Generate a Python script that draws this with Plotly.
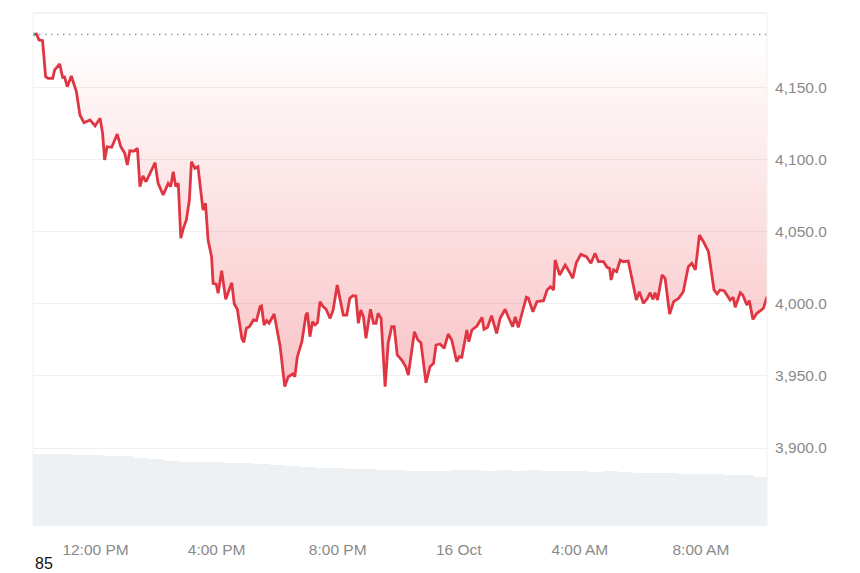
import plotly.graph_objects as go
import pandas as pd

# ---------------- data ----------------
open_price = 4187.0

times = [
    "2025-10-15 09:56", "2025-10-15 10:03", "2025-10-15 10:08", "2025-10-15 10:15", "2025-10-15 10:21",
    "2025-10-15 10:26", "2025-10-15 10:35", "2025-10-15 10:39", "2025-10-15 10:49", "2025-10-15 10:55",
    "2025-10-15 10:58", "2025-10-15 11:04", "2025-10-15 11:12", "2025-10-15 11:22", "2025-10-15 11:29",
    "2025-10-15 11:37", "2025-10-15 11:49", "2025-10-15 11:59", "2025-10-15 12:09", "2025-10-15 12:14",
    "2025-10-15 12:18", "2025-10-15 12:23", "2025-10-15 12:32", "2025-10-15 12:43", "2025-10-15 12:50",
    "2025-10-15 12:58", "2025-10-15 13:03", "2025-10-15 13:08", "2025-10-15 13:16", "2025-10-15 13:23",
    "2025-10-15 13:28", "2025-10-15 13:34", "2025-10-15 13:40", "2025-10-15 13:49", "2025-10-15 13:58",
    "2025-10-15 14:04", "2025-10-15 14:14", "2025-10-15 14:24", "2025-10-15 14:29", "2025-10-15 14:34",
    "2025-10-15 14:39", "2025-10-15 14:44", "2025-10-15 14:49", "2025-10-15 14:54", "2025-10-15 15:00",
    "2025-10-15 15:06", "2025-10-15 15:10", "2025-10-15 15:17", "2025-10-15 15:23", "2025-10-15 15:33",
    "2025-10-15 15:38", "2025-10-15 15:43", "2025-10-15 15:50", "2025-10-15 15:53", "2025-10-15 15:59",
    "2025-10-15 16:03", "2025-10-15 16:10", "2025-10-15 16:18", "2025-10-15 16:30", "2025-10-15 16:35",
    "2025-10-15 16:41", "2025-10-15 16:50", "2025-10-15 16:54", "2025-10-15 16:59", "2025-10-15 17:05",
    "2025-10-15 17:13", "2025-10-15 17:19", "2025-10-15 17:26", "2025-10-15 17:29", "2025-10-15 17:34",
    "2025-10-15 17:39", "2025-10-15 17:44", "2025-10-15 17:54", "2025-10-15 18:06", "2025-10-15 18:15",
    "2025-10-15 18:22", "2025-10-15 18:31", "2025-10-15 18:35", "2025-10-15 18:40", "2025-10-15 18:49",
    "2025-10-15 18:57", "2025-10-15 19:00", "2025-10-15 19:05", "2025-10-15 19:10", "2025-10-15 19:15",
    "2025-10-15 19:20", "2025-10-15 19:25", "2025-10-15 19:31", "2025-10-15 19:37", "2025-10-15 19:45",
    "2025-10-15 19:51", "2025-10-15 19:59", "2025-10-15 20:11", "2025-10-15 20:18", "2025-10-15 20:24",
    "2025-10-15 20:30", "2025-10-15 20:36", "2025-10-15 20:41", "2025-10-15 20:46", "2025-10-15 20:51",
    "2025-10-15 20:56", "2025-10-15 21:05", "2025-10-15 21:11", "2025-10-15 21:16", "2025-10-15 21:20",
    "2025-10-15 21:26", "2025-10-15 21:34", "2025-10-15 21:40", "2025-10-15 21:47", "2025-10-15 21:52",
    "2025-10-15 21:58", "2025-10-15 22:07", "2025-10-15 22:15", "2025-10-15 22:20", "2025-10-15 22:32",
    "2025-10-15 22:39", "2025-10-15 22:45", "2025-10-15 22:55", "2025-10-15 23:03", "2025-10-15 23:10",
    "2025-10-15 23:15", "2025-10-15 23:23", "2025-10-15 23:31", "2025-10-15 23:39", "2025-10-15 23:46",
    "2025-10-15 23:56", "2025-10-16 00:01", "2025-10-16 00:06", "2025-10-16 00:16", "2025-10-16 00:20",
    "2025-10-16 00:26", "2025-10-16 00:36", "2025-10-16 00:46", "2025-10-16 00:50", "2025-10-16 00:57",
    "2025-10-16 01:05", "2025-10-16 01:15", "2025-10-16 01:22", "2025-10-16 01:32", "2025-10-16 01:38",
    "2025-10-16 01:47", "2025-10-16 01:52", "2025-10-16 01:58", "2025-10-16 02:07", "2025-10-16 02:14",
    "2025-10-16 02:18", "2025-10-16 02:27", "2025-10-16 02:35", "2025-10-16 02:48", "2025-10-16 02:55",
    "2025-10-16 03:02", "2025-10-16 03:08", "2025-10-16 03:11", "2025-10-16 03:20", "2025-10-16 03:31",
    "2025-10-16 03:39", "2025-10-16 03:46", "2025-10-16 03:53", "2025-10-16 04:02", "2025-10-16 04:13",
    "2025-10-16 04:22", "2025-10-16 04:30", "2025-10-16 04:37", "2025-10-16 04:47", "2025-10-16 04:54",
    "2025-10-16 04:59", "2025-10-16 05:02", "2025-10-16 05:07", "2025-10-16 05:13", "2025-10-16 05:20",
    "2025-10-16 05:26", "2025-10-16 05:36", "2025-10-16 05:43", "2025-10-16 05:52", "2025-10-16 05:58",
    "2025-10-16 06:06", "2025-10-16 06:14", "2025-10-16 06:19", "2025-10-16 06:25", "2025-10-16 06:29",
    "2025-10-16 06:34", "2025-10-16 06:43", "2025-10-16 06:49", "2025-10-16 06:58", "2025-10-16 07:06",
    "2025-10-16 07:16", "2025-10-16 07:25", "2025-10-16 07:35", "2025-10-16 07:42", "2025-10-16 07:49",
    "2025-10-16 07:57", "2025-10-16 08:05", "2025-10-16 08:15", "2025-10-16 08:26", "2025-10-16 08:32",
    "2025-10-16 08:38", "2025-10-16 08:46", "2025-10-16 08:52", "2025-10-16 08:58", "2025-10-16 09:04",
    "2025-10-16 09:08", "2025-10-16 09:18", "2025-10-16 09:23", "2025-10-16 09:31", "2025-10-16 09:36",
    "2025-10-16 09:43", "2025-10-16 09:51", "2025-10-16 09:58", "2025-10-16 10:04", "2025-10-16 10:11",
]

prices = [
    4187.0, 4187.3, 4183.2, 4182.7, 4157.7, 4156.6, 4156.6, 4162.4, 4166.5, 4156.6,
    4158.2, 4150.8, 4158.2, 4147.3, 4131.1, 4125.8, 4127.7, 4123.5, 4128.8, 4118.4,
    4099.9, 4109.1, 4108.7, 4117.9, 4109.1, 4104.5, 4096.4, 4106.3, 4106.1, 4108.0,
    4081.4, 4088.8, 4084.8, 4091.8, 4098.0, 4083.7, 4075.6, 4083.7, 4081.4, 4091.8,
    4081.4, 4083.7, 4045.6, 4052.5, 4058.3, 4072.1, 4098.7, 4094.1, 4095.2, 4065.2,
    4069.8, 4044.4, 4032.8, 4014.3, 4013.8, 4007.4, 4023.1, 4003.2, 4014.7, 3999.9,
    3996.3, 3976.2, 3973.4, 3983.1, 3984.2, 3988.9, 3988.4, 3998.1, 3998.6, 3985.4,
    3988.4, 3986.6, 3993.0, 3970.3, 3942.6, 3949.5, 3951.4, 3949.5, 3963.4, 3973.8,
    3992.3, 3993.9, 3977.3, 3987.7, 3985.4, 3987.0, 4001.6, 3998.1, 3996.3, 3990.0,
    3995.8, 4013.1, 3992.3, 3992.3, 4003.9, 4005.7, 4005.5, 3986.6, 3995.8, 3991.1,
    3976.2, 3996.3, 3986.6, 3986.6, 3993.5, 3990.0, 3942.6, 3972.7, 3984.2, 3984.2,
    3964.6, 3961.1, 3956.4, 3950.7, 3980.7, 3975.0, 3973.1, 3945.3, 3956.4, 3958.8,
    3971.5, 3972.2, 3969.2, 3979.1, 3975.0, 3959.9, 3963.4, 3963.0, 3981.9, 3973.8,
    3981.9, 3984.7, 3990.7, 3982.4, 3983.8, 3991.8, 3979.6, 3990.0, 3996.3, 3991.1,
    3984.2, 3991.1, 3983.8, 3995.8, 4004.6, 4003.9, 3994.6, 4001.6, 4002.3, 4009.7,
    4012.0, 4009.7, 4030.5, 4020.1, 4027.0, 4022.4, 4017.8, 4028.6, 4034.4, 4032.8,
    4028.2, 4035.1, 4029.3, 4029.3, 4025.4, 4024.7, 4016.6, 4023.6, 4022.4, 4030.5,
    4029.3, 4029.8, 4017.8, 4002.7, 4008.5, 4000.4, 4003.9, 4007.8, 4003.2, 4007.8,
    4002.7, 4020.1, 4017.8, 3993.0, 4001.6, 4003.9, 4008.5, 4025.8, 4028.2, 4023.6,
    4047.8, 4043.2, 4036.3, 4009.7, 4006.9, 4009.7, 4009.2, 4005.5, 4002.7, 4004.6,
    3997.7, 4007.8, 4006.2, 3999.3, 4002.3, 3989.3, 3993.5, 3995.3, 3997.0, 4005.0,
]

# half-hourly volume bars, 10:00 on 15 Oct to 10:00 on 16 Oct (arbitrary units)
volume_start = "2025-10-15 10:00"
volumes = [
    14.4, 14.4, 14.4, 14.3, 14.2, 14.1, 14.0, 13.6, 13.4, 13.0,
    12.9, 12.8, 12.8, 12.7, 12.6, 12.5, 12.2, 12.0, 11.8, 11.7,
    11.6, 11.5, 11.4, 11.3, 11.2, 11.1, 11.0, 11.1, 11.2, 11.2,
    11.1, 11.2, 11.1, 11.2, 11.1, 11.1, 11.0, 10.9, 11.0, 10.8,
    10.7, 10.6, 10.6, 10.5, 10.5, 10.4, 10.3, 10.2, 9.8,
]

tick_times = ["2025-10-15 12:00", "2025-10-15 16:00", "2025-10-15 20:00",
              "2025-10-16 00:00", "2025-10-16 04:00", "2025-10-16 08:00"]
tick_labels = ["12:00 PM", "4:00 PM", "8:00 PM", "16 Oct", "4:00 AM", "8:00 AM"]
price_ticks = [3900, 3950, 4000, 4050, 4100, 4150]

x_range = ["2025-10-15 09:56", "2025-10-16 10:11"]
y_range = [3845.9, 4201.9]
vol_range = [0, 102.6]

# ---------------- figure ----------------
FONT = "Liberation Sans, Arial, sans-serif"
RED = "rgb(224,54,68)"
GRID = "#efefef"
TICK_COLOR = "#8a8a8a"

vol_times = pd.date_range(volume_start, periods=len(volumes), freq="30min")

fig = go.Figure()

fig.add_trace(go.Bar(
    x=vol_times, y=volumes, yaxis="y2",
    marker=dict(color="rgb(238,241,244)", line=dict(width=0)),
    width=30 * 60 * 1000,
    hoverinfo="skip", showlegend=False,
))

# baseline (opening price), dotted
fig.add_trace(go.Scatter(
    x=[x_range[0], x_range[1]], y=[open_price, open_price],
    mode="lines", line=dict(color="#9a9a9a", width=1.5, dash="1.5px,4.5px"),
    hoverinfo="skip", showlegend=False,
))

fig.add_trace(go.Scatter(
    x=times, y=prices, mode="lines",
    line=dict(color=RED, width=2.8),
    fill="tonexty",
    fillgradient=dict(
        type="vertical",
        colorscale=[[0, "rgba(234,57,67,0.30)"], [1, "rgba(234,57,67,0.0)"]],
        start=min(prices), stop=open_price,
    ),
    hoverinfo="skip", showlegend=False,
))

fig.add_trace(go.Scatter(
    x=[times[0]], y=[prices[0]], mode="markers",
    marker=dict(color="rgb(22,199,132)", size=4),
    hoverinfo="skip", showlegend=False,
))

# the page body has an 8px margin, so the figure is 8px smaller than the window
fig.update_layout(
    width=852, height=565,
    margin=dict(l=25, r=93, t=5, b=47),
    paper_bgcolor="white", plot_bgcolor="white",
    font=dict(family=FONT, size=15.5, color=TICK_COLOR),
    bargap=0,
    xaxis=dict(
        type="date", range=x_range,
        tickvals=tick_times, ticktext=tick_labels,
        showgrid=False, zeroline=False, showline=False,
        ticks="outside", ticklen=9, tickcolor="rgba(0,0,0,0)",
        tickfont=dict(size=15.5, color=TICK_COLOR),
        fixedrange=True,
    ),
    yaxis=dict(
        range=y_range, side="right",
        tickvals=price_ticks, tickformat=",.1f",
        showgrid=True, gridcolor=GRID, gridwidth=1,
        zeroline=False, showline=False,
        ticks="outside", ticklen=4, tickcolor="rgba(0,0,0,0)",
        tickfont=dict(size=15.5, color=TICK_COLOR),
    ),
    yaxis2=dict(
        range=vol_range, overlaying="y", visible=False, showgrid=False,
    ),
    showlegend=False,
)

# frame lines: top, left, right
border = "#e6e6e6"
fig.add_shape(type="line", xref="paper", yref="paper", x0=0, x1=1, y0=1, y1=1,
              line=dict(color=border, width=1))
fig.add_shape(type="line", xref="paper", yref="paper", x0=0, x1=0, y0=0, y1=1,
              line=dict(color="#f0f0f0", width=1))
fig.add_shape(type="line", xref="paper", yref="paper", x0=1, x1=1, y0=0, y1=1,
              line=dict(color="#f0f0f0", width=1))

fig.add_annotation(
    text="85", xref="paper", yref="paper", x=0, y=-0.074,
    xanchor="left", yanchor="middle", showarrow=False,
    font=dict(family=FONT, size=16, color="#111111"),
)

fig.write_html("out.html")
